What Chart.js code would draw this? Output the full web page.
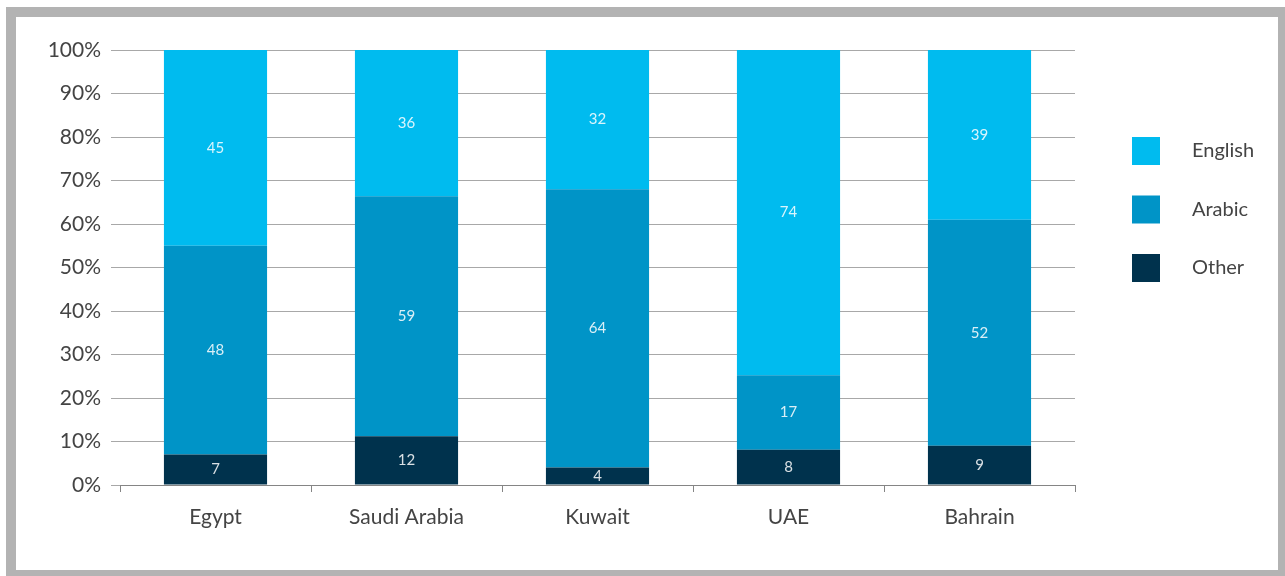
<!DOCTYPE html>
<html>
<head>
<meta charset="utf-8">
<script src="https://cdn.jsdelivr.net/npm/chart.js@4"></script>
<style>
  html, body { margin: 0; padding: 0; background: #fff; overflow: hidden; }
  #frame {
    position: absolute; left: 6px; top: 7px;
    width: 1262px; height: 553px;
    border: 10px solid #b3b3b3; background: #fff;
  }
  #wrap { position: absolute; left: 0; top: 0; width: 1285px; height: 576px; }
</style>
</head>
<body>
<div id="frame"></div>
<div id="wrap"><canvas id="chart"></canvas></div>
<script>
// categories and series (raw counts, shown as labels; bars drawn as share of total)
const countries = ['Egypt', 'Saudi Arabia', 'Kuwait', 'UAE', 'Bahrain'];
const english = [45, 36, 32, 74, 39];
const arabic = [48, 59, 64, 17, 52];
const other = [7, 12, 4, 8, 9];

const FONT = 'Lato, "Open Sans", sans-serif';
const TEXT = '#444444';

// share of each country's total, for the 100% stacking
const share = (series) => series.map((v, i) => v / (english[i] + arabic[i] + other[i]) * 100);

// writes the raw value in the middle of every segment
const segmentLabels = {
    id: 'segmentLabels',
    afterDatasetsDraw(chart) {
        const { ctx } = chart;
        ctx.save();
        ctx.font = '15px ' + FONT;
        ctx.fillStyle = 'rgba(255,255,255,0.85)';
        ctx.textAlign = 'center';
        ctx.textBaseline = 'middle';
        chart.data.datasets.forEach((ds, d) => {
            chart.getDatasetMeta(d).data.forEach((bar, i) => {
                const y = (bar.y + bar.base) / 2;
                ctx.fillText(String(ds.raw[i]), bar.x, y);
            });
        });
        ctx.restore();
    }
};

// legend on the right, English on top
const sideLegend = {
    id: 'sideLegend',
    afterDraw(chart) {
        const { ctx, chartArea } = chart;
        const items = chart.data.datasets.slice().reverse();
        ctx.save();
        ctx.font = '20px ' + FONT;
        ctx.textBaseline = 'middle';
        ctx.textAlign = 'left';
        items.forEach((ds, k) => {
            const bx = chartArea.right + 57;
            const by = chartArea.top + 87 + k * 58.5;
            ctx.fillStyle = ds.backgroundColor;
            ctx.fillRect(bx, by, 28, 28);
            ctx.fillStyle = TEXT;
            ctx.fillText(ds.label, bx + 60, by + 14);
        });
        ctx.restore();
    }
};

const ctx = document.getElementById('chart').getContext('2d');
const chart = new Chart(ctx, {
    type: 'bar',
    data: {
        labels: countries,
        datasets: [
            { label: 'Other', raw: other, data: share(other), backgroundColor: '#00324d' },
            { label: 'Arabic', raw: arabic, data: share(arabic), backgroundColor: '#0094c7' },
            { label: 'English', raw: english, data: share(english), backgroundColor: '#00bbef' },
        ],
    },
    options: {
        responsive: true,
        maintainAspectRatio: false,
        animation: false,
        categoryPercentage: 1,
        barPercentage: 0.54,
        layout: { padding: { top: 50, right: 210, left: 0, bottom: 0 } },
        plugins: {
            legend: { display: false },
            tooltip: { enabled: false },
        },
        scales: {
            x: {
                stacked: true,
                grid: {
                    drawOnChartArea: false,
                    drawTicks: true,
                    tickLength: 7,
                    color: '#858585',
                },
                border: { display: true, color: '#858585' },
                ticks: {
                    color: TEXT,
                    font: { family: FONT, size: 21 },
                    padding: 13,
                    maxRotation: 0,
                },
                afterFit: (scale) => { scale.height = 91; },
            },
            y: {
                stacked: true,
                min: 0,
                max: 100,
                grid: {
                    color: '#a8a8a8',
                    drawTicks: true,
                    tickLength: 9,
                },
                border: { display: false },
                ticks: {
                    stepSize: 10,
                    color: TEXT,
                    font: { family: FONT, size: 21 },
                    padding: 10,
                    callback: (v) => v + '%',
                },
                afterFit: (scale) => { scale.width = 120; },
            },
        },
    },
    plugins: [segmentLabels, sideLegend],
});
</script>
</body>
</html>
